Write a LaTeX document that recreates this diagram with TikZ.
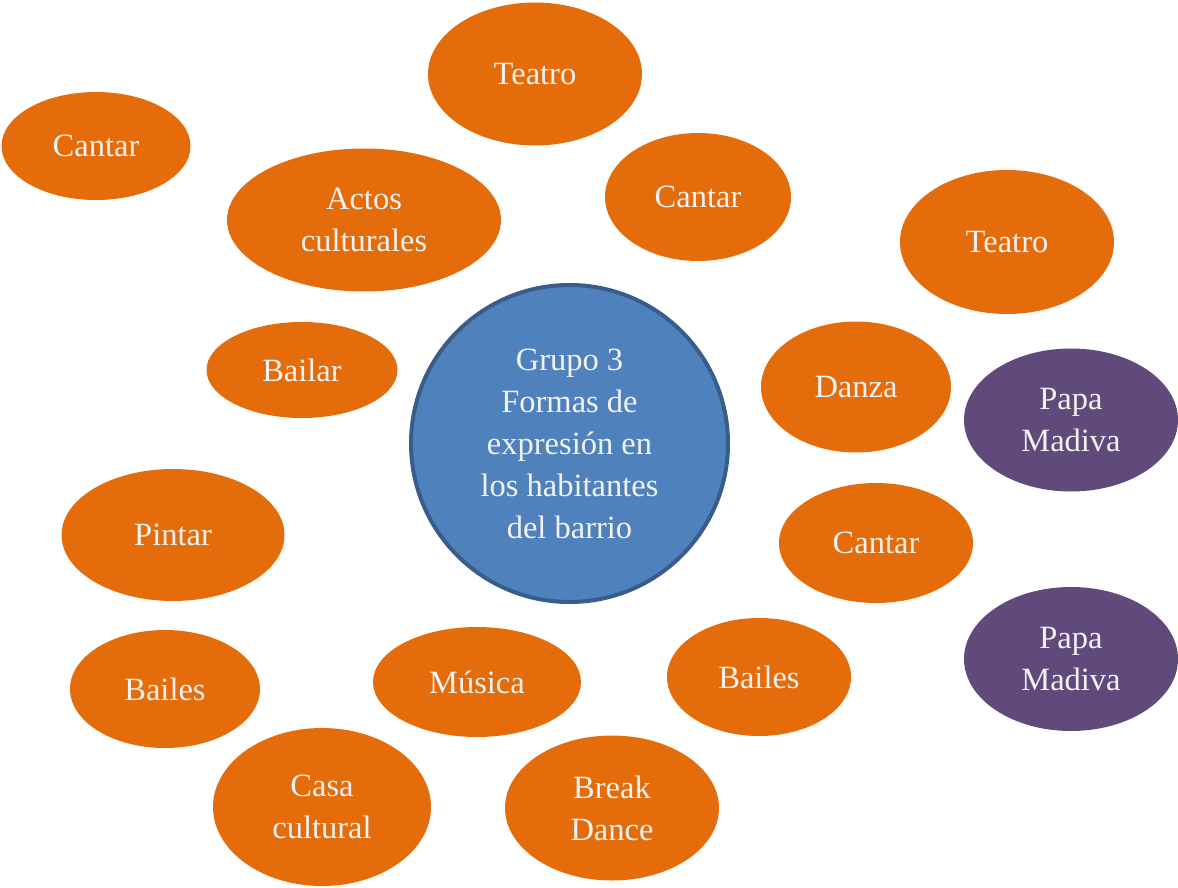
\documentclass[tikz,border=0pt]{standalone}
\usepackage{fontspec}
\setmainfont{Liberation Serif}
\usetikzlibrary{shapes.geometric}
\definecolor{bubor}{HTML}{E46C0A}
\definecolor{bubpu}{HTML}{604A7B}
\definecolor{bubbl}{HTML}{4F81BD}
\definecolor{bubbd}{HTML}{385D8A}
\definecolor{bubtx}{HTML}{F2F2F2}
\tikzset{
  bub/.style={ellipse, inner sep=0pt, draw=none, text=bubtx, align=center,
    font=\fontsize{32.5}{42}\selectfont},
  orbub/.style={bub, fill=bubor},
  pubub/.style={bub, fill=bubpu},
  centrebub/.style={circle, inner sep=0pt, fill=bubbl, draw=bubbd, line width=4pt,
    text=bubtx, align=center, font=\fontsize{32.5}{42}\selectfont, minimum size=317pt}
}
\begin{document}
\begin{tikzpicture}[x=1pt,y=-1pt]
\useasboundingbox (0,0) rectangle (1178,888);
\node[orbub, minimum width=214pt, minimum height=143pt] (teatroA) at (535,74) {Teatro};
\node[orbub, minimum width=189pt, minimum height=108pt] (cantarA) at (96,146) {Cantar};
\node[orbub, minimum width=274pt, minimum height=143pt] (actos) at (364,220) {Actos\\culturales};
\node[orbub, minimum width=186pt, minimum height=128pt] (cantarB) at (698,197) {Cantar};
\node[orbub, minimum width=214pt, minimum height=144pt] (teatroB) at (1007,242) {Teatro};
\node[orbub, minimum width=191pt, minimum height=96pt] (bailar) at (302,370) {Bailar};
\node[centrebub] (centro) at (569.5,443.5) {Grupo 3\\Formas de\\expresión en\\los habitantes\\del barrio};
\node[orbub, minimum width=190pt, minimum height=131pt] (danza) at (856,387) {Danza};
\node[pubub, minimum width=214pt, minimum height=143pt] (papaA) at (1071,420) {Papa\\Madiva};
\node[orbub, minimum width=223pt, minimum height=132pt] (pintar) at (173,535) {Pintar};
\node[orbub, minimum width=194pt, minimum height=120pt] (cantarC) at (876,543) {Cantar};
\node[pubub, minimum width=214pt, minimum height=144pt] (papaB) at (1071,659) {Papa\\Madiva};
\node[orbub, minimum width=190pt, minimum height=118pt] (bailesA) at (165,689) {Bailes};
\node[orbub, minimum width=208pt, minimum height=110pt] (musica) at (477,682) {Música};
\node[orbub, minimum width=184pt, minimum height=118pt] (bailesB) at (759,677) {Bailes};
\node[orbub, minimum width=218pt, minimum height=158pt] (casa) at (322,807) {Casa\\cultural};
\node[orbub, minimum width=214pt, minimum height=145pt] (break) at (612,808) {Break\\Dance};
\end{tikzpicture}
\end{document}
